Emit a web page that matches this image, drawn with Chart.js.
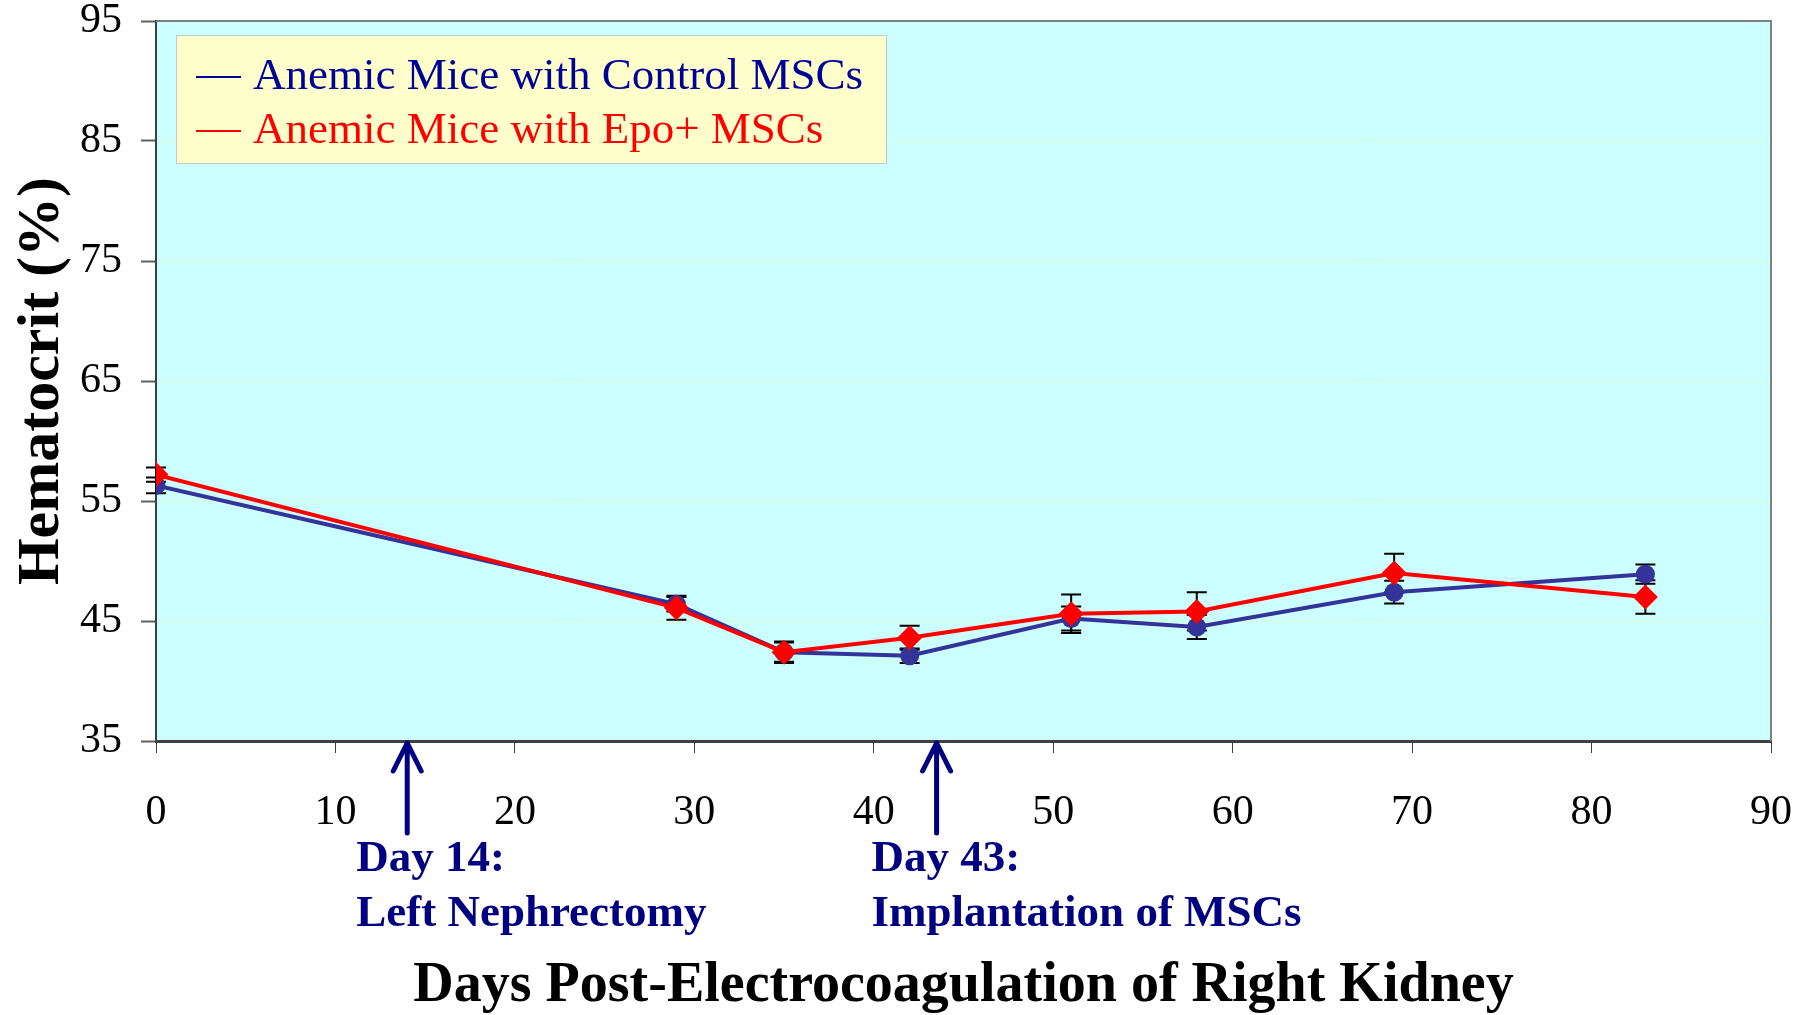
<!DOCTYPE html>
<html>
<head>
<meta charset="utf-8">
<script src="https://cdn.jsdelivr.net/npm/chart.js@4.4.1/dist/chart.umd.min.js"></script>
<style>
  html, body { margin: 0; padding: 0; background: #fff; }
  canvas { display: block; }
</style>
</head>
<body>
<canvas id="hct" width="1812" height="1015"></canvas>
<script>
// hematocrit over time, two groups of anemic mice
const days = [0, 29, 35, 42, 51, 58, 69, 83];
const controlHct = [56.3, 46.4, 42.4, 42.1, 45.2, 44.5, 47.4, 48.9];
const controlErr = [0.65, 0.6, 0.8, 0.6, 1.0, 1.0, 0.95, 0.8];
const epoHct = [57.2, 46.1, 42.4, 43.6, 45.6, 45.8, 49.0, 47.0];
const epoErr = [0.6, 1.0, 0.9, 1.0, 1.6, 1.6, 1.6, 1.4];

const seriesNames = ['Anemic Mice with Control MSCs', 'Anemic Mice with Epo+ MSCs'];
const eventDays = [14, 43.5];
const eventLabels = [['Day 14:', 'Left Nephrectomy'], ['Day 43:', 'Implantation of MSCs']];

const serif = "'Liberation Serif', 'Times New Roman', serif";
const NAVY = '#000080';

const plotBg = {
  id: 'plotBg',
  beforeDraw(chart) {
    const { ctx, chartArea: a } = chart;
    ctx.save();
    ctx.fillStyle = '#CCFFFF';
    ctx.fillRect(a.left, a.top, a.right - a.left, a.bottom - a.top);
    ctx.restore();
  },
  afterDraw(chart) {
    const { ctx, chartArea: a } = chart;
    ctx.save();
    ctx.strokeStyle = '#808080';
    ctx.lineWidth = 2;
    ctx.beginPath();
    ctx.moveTo(a.left, a.top);
    ctx.lineTo(a.right, a.top);
    ctx.lineTo(a.right, a.bottom);
    ctx.stroke();
    ctx.restore();
  }
};

const errorBars = {
  id: 'errorBars',
  beforeDatasetsDraw(chart) {
    const { ctx } = chart;
    const x = chart.scales.x, y = chart.scales.y;
    const sets = [[controlHct, controlErr], [epoHct, epoErr]];
    ctx.save();
    ctx.strokeStyle = '#000';
    ctx.lineWidth = 2;
    sets.forEach(([vals, errs]) => {
      vals.forEach((v, i) => {
        const px = x.getPixelForValue(days[i]);
        const top = y.getPixelForValue(v + errs[i]);
        const bot = y.getPixelForValue(v - errs[i]);
        ctx.beginPath();
        ctx.moveTo(px, top); ctx.lineTo(px, bot);
        ctx.moveTo(px - 10, top); ctx.lineTo(px + 10, top);
        ctx.moveTo(px - 10, bot); ctx.lineTo(px + 10, bot);
        ctx.stroke();
      });
    });
    ctx.restore();
  }
};

const events = {
  id: 'events',
  afterDraw(chart) {
    const { ctx, chartArea: a } = chart;
    const x = chart.scales.x;
    const textShift = [-51, -65];
    ctx.save();
    ctx.strokeStyle = NAVY;
    ctx.fillStyle = NAVY;
    ctx.lineWidth = 5;
    ctx.lineCap = 'round';
    ctx.lineJoin = 'round';
    eventDays.forEach((d, i) => {
      const px = x.getPixelForValue(d);
      const tip = a.bottom + 2;
      ctx.beginPath();
      ctx.moveTo(px, tip); ctx.lineTo(px, tip + 90);
      ctx.moveTo(px - 14, tip + 28); ctx.lineTo(px, tip); ctx.lineTo(px + 14, tip + 28);
      ctx.stroke();
      ctx.font = 'bold 45px ' + serif;
      ctx.textAlign = 'left';
      ctx.textBaseline = 'alphabetic';
      ctx.fillText(eventLabels[i][0], px + textShift[i], 871);
      ctx.fillText(eventLabels[i][1], px + textShift[i], 926);
    });
    ctx.restore();
  }
};

const boxLegend = {
  id: 'boxLegend',
  afterDraw(chart) {
    const { ctx } = chart;
    const colors = ['#000099', '#FF0000'];
    ctx.save();
    ctx.fillStyle = '#FFFFCC';
    ctx.fillRect(176, 35, 710, 128);
    ctx.strokeStyle = '#C8C8C8';
    ctx.lineWidth = 1;
    ctx.strokeRect(176.5, 35.5, 710, 128);
    ctx.font = '45px ' + serif;
    ctx.textBaseline = 'alphabetic';
    seriesNames.forEach((name, i) => {
      const by = 89 + i * 54;
      ctx.strokeStyle = colors[i];
      ctx.lineWidth = 2;
      ctx.beginPath();
      ctx.moveTo(196, by - 12); ctx.lineTo(241, by - 12);
      ctx.stroke();
      ctx.fillStyle = colors[i];
      ctx.fillText(name, 253, by);
    });
    ctx.restore();
  }
};

new Chart(document.getElementById('hct'), {
  type: 'line',
  data: {
    datasets: [
      {
        label: seriesNames[0],
        data: days.map((d, i) => ({ x: d, y: controlHct[i] })),
        borderColor: '#333399',
        backgroundColor: '#333399',
        borderWidth: 4,
        pointStyle: 'circle',
        pointRadius: 9.5,
        pointBorderWidth: 0,
        order: 1
      },
      {
        label: seriesNames[1],
        data: days.map((d, i) => ({ x: d, y: epoHct[i] })),
        borderColor: '#FF0000',
        backgroundColor: '#FF0000',
        borderWidth: 4,
        pointStyle: 'rectRot',
        pointRadius: 12.5,
        pointBorderWidth: 0,
        order: 0
      }
    ]
  },
  options: {
    responsive: false,
    devicePixelRatio: 1,
    animation: false,
    events: [],
    layout: { padding: { top: 21, right: 41, left: 0, bottom: 0 } },
    plugins: { legend: { display: false }, tooltip: { enabled: false } },
    scales: {
      x: {
        type: 'linear',
        min: 0, max: 90,
        afterFit(s) { s.height = 274; s.paddingLeft = 0; s.paddingRight = 0; },
        ticks: { stepSize: 10, color: '#000', padding: 39, maxRotation: 0,
                 font: { family: serif, size: 42, lineHeight: 1 } },
        grid: { drawOnChartArea: false, drawTicks: true, tickLength: 12, tickColor: '#404040', tickWidth: 1 },
        border: { color: '#404040', width: 3 },
        title: { display: true, text: 'Days Post-Electrocoagulation of Right Kidney', color: '#000',
                 padding: { top: 2, bottom: 0 },
                 font: { family: serif, size: 56, weight: 'bold', lineHeight: 1 } }
      },
      y: {
        min: 35, max: 95,
        afterFit(s) { s.width = 156; s.paddingTop = 0; s.paddingBottom = 0; },
        ticks: { stepSize: 10, color: '#000', padding: 19,
                 font: { family: serif, size: 42, lineHeight: 1 } },
        grid: { color: '#D8FFD8', lineWidth: 1, tickLength: 15, tickColor: '#606060', tickWidth: 2 },
        border: { color: '#404040', width: 2 },
        title: { display: true, text: 'Hematocrit (%)', color: '#000',
                 padding: { top: 12, bottom: 0 },
                 font: { family: serif, size: 60, weight: 'bold', lineHeight: 1 } }
      }
    }
  },
  plugins: [plotBg, errorBars, events, boxLegend]
});
</script>
</body>
</html>
